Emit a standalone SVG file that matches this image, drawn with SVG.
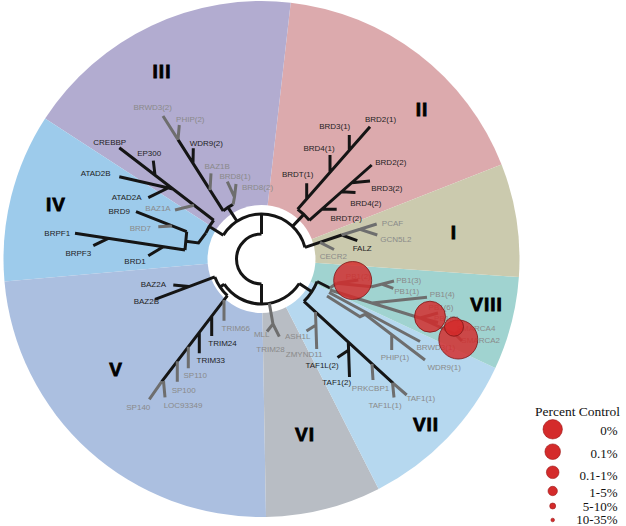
<svg xmlns="http://www.w3.org/2000/svg" width="626" height="526" viewBox="0 0 626 526">
<style>
.b{stroke:#151515;stroke-width:3;fill:none}
.g{stroke:#6e6e6e;stroke-width:3;fill:none}
text{font-family:"Liberation Sans",Arial,sans-serif}
.t{font-size:8px;text-anchor:middle}
.k{fill:#1e1e1e}
.gr{fill:#8a8a8a}
.rn{font-size:19px;font-weight:bold;fill:#000;stroke:#000;stroke-width:.8;text-anchor:middle;letter-spacing:1px}
.hit{fill:#d42a2a;fill-opacity:.82;stroke:#7d1515;stroke-width:.8}
.lc{fill:#d42b2b;stroke:#9a1818;stroke-width:.6}
.lg{font-family:"Liberation Serif","Times New Roman",serif;font-size:13.5px;fill:#111}
.lv{font-family:"Liberation Serif","Times New Roman",serif;font-size:13px;fill:#111;text-anchor:end}
</style>
<g id="sectors">
<path d="M261.5 259 L501.55 164.44 A258 258 0 0 0 290.71 2.66 Z" fill="#dcaaad"/>
<path d="M261.5 259 L290.71 2.66 A258 258 0 0 0 45.12 118.48 Z" fill="#b2acd0"/>
<path d="M261.5 259 L45.12 118.48 A258 258 0 0 0 4.48 281.49 Z" fill="#9dcbeb"/>
<path d="M261.5 259 L4.48 281.49 A258 258 0 0 0 266.00 516.96 Z" fill="#abbfe0"/>
<path d="M261.5 259 L266.00 516.96 A258 258 0 0 0 378.63 488.88 Z" fill="#b8bdc4"/>
<path d="M261.5 259 L378.63 488.88 A258 258 0 0 0 495.33 368.03 Z" fill="#b6d8ef"/>
<path d="M261.5 259 L495.33 368.03 A258 258 0 0 0 518.87 277.00 Z" fill="#a0d3d0"/>
<path d="M261.5 259 L518.87 277.00 A258 258 0 0 0 501.55 164.44 Z" fill="#cbcaae"/>
<circle cx="261.5" cy="259" r="54" fill="#fff"/>
</g>
<g id="connectors">
<path class="b" d="M261.5 234 A25 25 0 0 0 261.5 284 M261.5 234 V214 M261.5 284 V304"/>
<path class="b" d="M223.34 235.15 A45 45 0 0 1 304.97 247.35"/>
<path class="b" d="M224.19 284.16 A45 45 0 0 0 299.24 283.51"/>
<path class="b" d="M223.34 235.15 L209.34 226.41 M213.70 220.30 A61.5 61.5 0 0 0 205.76 233.01"/>
<path class="b" d="M119.3 147.7 L213.7 220.3 M153.3 160.7 L155 175.2 M119.3 176.7 L173 189 M148.3 197.7 L168 188"/>
<path class="g" d="M175 210 L194 205.2"/>
<path class="b" d="M136 211.7 L186.7 231.7 M75 233.3 L185 250 M93.3 245.7 L108.3 238.4 M148.3 255.7 L163.3 246.7 M186.7 231.7 L185 250 M185.9 241.3 L198.5 243 L205.76 233.01"/>
<path class="g" d="M158.3 226.7 L172 225.9"/>
<path class="b" d="M236.99 221.26 L228.0 207.42 M233.10 204.45 A61.5 61.5 0 0 0 223.22 210.87 M178 139.6 L223.22 210.87 M193.3 148.3 L193 163.3"/>
<path class="g" d="M163 116 L178 139.6 M179.3 125 L178 139.6 M211 173.3 L210 190.1 M233.10 204.45 L234.5 197 M234.5 197 L227.3 181.7 M234.5 197 L236 184"/>
<path class="b" d="M292.47 226.36 L303.83 214.39 M309.29 220.30 A61.5 61.5 0 0 0 297.65 209.25 M297.65 209.25 L370 126.7 M306.7 198.9 L306.7 183.3 M330 172.3 L330 155 M349.3 150.3 L349.3 135 M309.29 220.3 L371.7 165 M321.7 209.3 L336.7 209.3 M341.5 191.8 L355.5 192.5 M351.7 182.7 L370 181"/>
<path class="b" d="M304.97 247.35 L341.7 235 M341.7 235 L357.3 240.7"/>
<path class="g" d="M320 242.3 L334 249.5 M341.7 235 L360 229.3 M360 229.3 L376.7 224 M360 229.3 L377.3 235"/>
<path class="b" d="M224.19 284.16 L220.05 286.96 M214.82 276.92 A50 50 0 0 0 227.40 295.57 M155 299.3 L214.82 276.92 M173.3 285 L189 286.6 M227.4 295.57 L161.7 381.7 M211.7 316.2 L211.7 336 M199.3 332.4 L199.3 353.3"/>
<path class="g" d="M224 300 L224 320.7 M188.3 346.8 L188.3 368.3 M177.3 361.3 L177.3 381.7 M161.7 381.7 L149.3 399.3 M163.5 381 L165 397.3"/>
<path class="g" d="M269.31 303.32 L272.96 324 M272.96 324 L267 331.5 M272.96 324 L279.3 336.7"/>
<path class="b" d="M299.24 283.51 L311.82 291.68 M317.13 281.48 A60 60 0 0 1 303.93 301.43 M317.13 281.48 L330 288 M303.93 301.43 L393.3 383.3 M348.3 342.1 L349.5 377 M348.8 350 L337.5 357.5"/>
<path class="g" d="M315.5 312 L316.7 349 M316 325 L306.5 331 M372 363.8 L373 380 M392.5 382.6 L394 397.5 M393.3 383.3 L406.7 395"/>
<path class="g" d="M330 288 L336.7 283.3 M336.7 283.3 L358.3 280 M336.7 283.3 L371.7 286.7 M371.7 286.7 L394 281 M381.7 284.2 L393.3 288.3 M330 290 L420 318 M372 303 L427 297.3 M420 318 L438 313 M420 318 L438 322.5 M420 318 L455 334 M455 334 L463 328 M455 334 L462 341 M329 292.5 L420 341.5 M327 296 L360 316.7 L365 314.3 L425 360 M391.7 334.6 L391.7 350"/>
</g>
<g class="t">
<g id="CREBBP"><text class="k" x="109.7" y="144.6">CREBBP</text></g>
<g id="EP300"><text class="k" x="149.2" y="156.2">EP300</text></g>
<g id="ATAD2B"><text class="k" x="95.7" y="176.2">ATAD2B</text></g>
<g id="ATAD2A"><text class="k" x="126.7" y="200.2">ATAD2A</text></g>
<g id="BRD9"><text class="k" x="119.2" y="213.9">BRD9</text></g>
<g id="BRPF1"><text class="k" x="57.2" y="236.2">BRPF1</text></g>
<g id="BRPF3"><text class="k" x="78.3" y="255.6">BRPF3</text></g>
<g id="BRD1"><text class="k" x="135" y="263.6">BRD1</text></g>
<g id="WDR9-2"><text class="k" x="206.3" y="145.6">WDR9(2)</text></g>
<g id="BRD3-1"><text class="k" x="334.7" y="128.9">BRD3(1)</text></g>
<g id="BRD2-1"><text class="k" x="380.5" y="122.4">BRD2(1)</text></g>
<g id="BRD4-1"><text class="k" x="319" y="151.2">BRD4(1)</text></g>
<g id="BRDT-1"><text class="k" x="297.7" y="176.9">BRDT(1)</text></g>
<g id="BRD2-2"><text class="k" x="390.8" y="164.6">BRD2(2)</text></g>
<g id="BRD3-2"><text class="k" x="386.8" y="191.2">BRD3(2)</text></g>
<g id="BRD4-2"><text class="k" x="365.8" y="205.6">BRD4(2)</text></g>
<g id="BRDT-2"><text class="k" x="346.2" y="221.2">BRDT(2)</text></g>
<g id="FALZ"><text class="k" x="362.2" y="251.2">FALZ</text></g>
<g id="BAZ2A"><text class="k" x="153.3" y="286.9">BAZ2A</text></g>
<g id="BAZ2B"><text class="k" x="146.3" y="303.6">BAZ2B</text></g>
<g id="TRIM24"><text class="k" x="222.5" y="345.6">TRIM24</text></g>
<g id="TRIM33"><text class="k" x="210.8" y="362.9">TRIM33</text></g>
<g id="TAF1L-2"><text class="k" x="322" y="367.9">TAF1L(2)</text></g>
<g id="TAF1-2"><text class="k" x="336.7" y="384.6">TAF1(2)</text></g>
<g id="BRWD3-2"><text class="gr" x="152.7" y="109.6">BRWD3(2)</text></g>
<g id="PHIP-2"><text class="gr" x="190.3" y="122.2">PHIP(2)</text></g>
<g id="BAZ1B"><text class="gr" x="217.2" y="168.6">BAZ1B</text></g>
<g id="BRD8-1"><text class="gr" x="235" y="178.9">BRD8(1)</text></g>
<g id="BRD8-2"><text class="gr" x="257.5" y="190.2">BRD8(2)</text></g>
<g id="BAZ1A"><text class="gr" x="158" y="211.2">BAZ1A</text></g>
<g id="BRD7"><text class="gr" x="140.3" y="230.6">BRD7</text></g>
<g id="PCAF"><text class="gr" x="392.5" y="226.2">PCAF</text></g>
<g id="GCN5L2"><text class="gr" x="395.8" y="242.2">GCN5L2</text></g>
<g id="CECR2"><text class="gr" x="333.3" y="258.9">CECR2</text></g>
<g id="PB1-2"><text class="gr" x="358.3" y="278.9">PB1(2)</text></g>
<g id="PB1-3"><text class="gr" x="408.7" y="282.9">PB1(3)</text></g>
<g id="PB1-1"><text class="gr" x="406.7" y="293.6">PB1(1)</text></g>
<g id="PB1-4"><text class="gr" x="442.3" y="297.2">PB1(4)</text></g>
<g id="PB1-6"><text class="gr" x="441" y="309.6">PB1(6)</text></g>
<g id="PB1-5"><text class="gr" x="446.5" y="320.6">PB1(5)</text></g>
<g id="SMARCA4"><text class="gr" x="476" y="330.6">SMARCA4</text></g>
<g id="SMARCA2"><text class="gr" x="480.7" y="342.9">SMARCA2</text></g>
<g id="BRWD3-1"><text class="gr" x="435.8" y="350.2">BRWD3(1)</text></g>
<g id="PHIP-1"><text class="gr" x="395" y="359.6">PHIP(1)</text></g>
<g id="WDR9-1"><text class="gr" x="444.2" y="370.2">WDR9(1)</text></g>
<g id="ASH1L"><text class="gr" x="297.7" y="338.9">ASH1L</text></g>
<g id="ZMYND11"><text class="gr" x="304.2" y="356.9">ZMYND11</text></g>
<g id="MLL"><text class="gr" x="261.7" y="336.9">MLL</text></g>
<g id="TRIM28"><text class="gr" x="270.5" y="352.2">TRIM28</text></g>
<g id="TRIM66"><text class="gr" x="235.8" y="331.2">TRIM66</text></g>
<g id="SP110"><text class="gr" x="195.2" y="377.9">SP110</text></g>
<g id="SP100"><text class="gr" x="183.7" y="392.9">SP100</text></g>
<g id="SP140"><text class="gr" x="138.3" y="409.6">SP140</text></g>
<g id="LOC93349"><text class="gr" x="183" y="407.9">LOC93349</text></g>
<g id="PRKCBP1"><text class="gr" x="370.5" y="391.2">PRKCBP1</text></g>
<g id="TAF1L-1"><text class="gr" x="385" y="407.9">TAF1L(1)</text></g>
<g id="TAF1-1"><text class="gr" x="420.8" y="400.6">TAF1(1)</text></g>
</g>
<g id="hits">
<circle class="hit" cx="352.7" cy="280.5" r="19"/>
<circle class="hit" cx="430" cy="316.7" r="15.5"/>
<circle class="hit" cx="458.3" cy="339.5" r="19.5"/>
<circle class="hit" cx="454" cy="326.7" r="9.5"/>
</g>
<g id="clades">
<text class="rn" x="162" y="78">III</text>
<text class="rn" x="422" y="115.5">II</text>
<text class="rn" x="454" y="239">I</text>
<text class="rn" x="486.5" y="310.5">VIII</text>
<text class="rn" x="426" y="430.5">VII</text>
<text class="rn" x="305" y="440.5">VI</text>
<text class="rn" x="116" y="375.5">V</text>
<text class="rn" x="56" y="211">IV</text>
</g>
<g id="legend">
<text class="lg" x="577.5" y="416" text-anchor="middle">Percent Control</text>
<circle class="lc" cx="552.7" cy="429.3" r="9.7"/>
<circle class="lc" cx="552.7" cy="451.7" r="7.8"/>
<circle class="lc" cx="552.7" cy="472.3" r="6.3"/>
<circle class="lc" cx="552.7" cy="491" r="4.7"/>
<circle class="lc" cx="552.7" cy="506" r="3"/>
<circle class="lc" cx="552.7" cy="520" r="1.8"/>
<text class="lv" x="617.5" y="435">0%</text>
<text class="lv" x="617.5" y="458.3">0.1%</text>
<text class="lv" x="617.5" y="480">0.1-1%</text>
<text class="lv" x="617.5" y="497">1-5%</text>
<text class="lv" x="617.5" y="510.5">5-10%</text>
<text class="lv" x="617.5" y="524">10-35%</text>
</g>
</svg>
